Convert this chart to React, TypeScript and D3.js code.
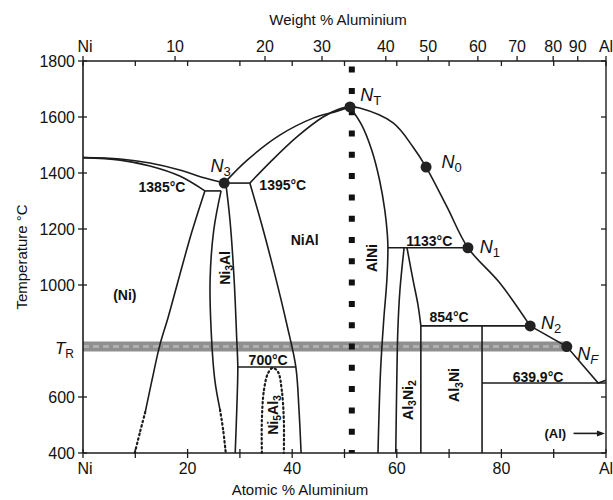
import React from "react";
import * as d3 from "d3";

const W = 613;
const H = 500;

// ---- axis data ----
const atomicTicks = [0, 10, 20, 30, 40, 50, 60, 70, 80, 90, 100];
const atomicLabelValues = [0, 20, 40, 60, 80, 100];
const atomicLabelTexts = ["Ni", "20", "40", "60", "80", "Al"];
const tempTicks = [400, 600, 1000, 1200, 1400, 1600, 1800];
const tempLabels = ["400", "600", "1000", "1200", "1400", "1600", "1800"];
// weight % ticks on the top axis, placed at their atomic % equivalents
const weightLabels = ["Ni", "10", "20", "30", "40", "50", "60", "70", "80", "90", "Al"];
const weightAtAtomic = [0, 17.6, 34.8, 45.7, 57.9, 66.0, 75.5, 83.0, 89.9, 94.6, 100];
const TR = 780;

// ---- phase boundaries [atomic % Al, temperature °C] ----
const niLiquidus = [[0, 1455], [7.1, 1450], [12.8, 1436], [18.5, 1411], [23.3, 1382], [27.0, 1364]];
const niSolidus = [[0, 1455], [7.1, 1446], [12.8, 1425], [18.5, 1389], [23.3, 1336]];
const eut1385 = [[23.3, 1336], [26.4, 1336]];
const per1395 = [[27.0, 1364], [31.9, 1364]];
const niAlLiquidus = [[27.0, 1364], [31.4, 1446], [37.7, 1536], [44.0, 1596], [48.6, 1621], [51.05, 1636]];
const niAlSolidus = [[31.9, 1364], [35.8, 1439], [40.9, 1529], [45.9, 1600], [49.1, 1629], [51.05, 1636]];
const niAlLeft = [[31.9, 1364], [34.2, 1214], [36.7, 1036], [39.0, 857], [40.7, 707], [41.3, 554], [41.7, 400]];
const ni3AlRight = [[27.3, 1364], [28.1, 1232], [28.9, 1018], [29.4, 804], [29.6, 707], [29.4, 554], [29.1, 400]];
const ni3AlLeft = [[26.4, 1336], [25.0, 1196], [24.3, 1018], [24.5, 839], [25.2, 661], [26.2, 554]];
const ni3AlLeftDotted = [[26.2, 554], [26.8, 482], [27.3, 400]];
const niSolvus = [[23.3, 1336], [20.8, 1189], [18.5, 1036], [16.3, 886], [14.7, 786], [13.2, 661], [11.9, 546]];
const niSolvusDotted = [[11.9, 546], [10.9, 475], [9.9, 400]];
const ni5Al3Dome = [[34.2, 400], [34.2, 518], [34.6, 625], [35.4, 686], [36.3, 704], [37.3, 689], [38.0, 625], [38.4, 518], [38.4, 400]];
const line700 = [[29.6, 707], [40.7, 707]];
const alNiRight = [[51.05, 1636], [53.3, 1571], [55.2, 1482], [56.7, 1375], [57.7, 1268], [58.2, 1179], [58.3, 1133], [58.1, 1018], [57.5, 875], [56.9, 696], [56.4, 400]];
const line1133 = [[58.3, 1133], [73.6, 1133]];
const al3Ni2Left = [[61.4, 1133], [60.6, 982], [60.2, 839], [60.0, 661], [59.8, 400]];
const al3Ni2RightTop = [[61.95, 1133], [63.1, 1018], [64.05, 929], [64.6, 854]];
const al3Ni2RightLow = [[64.6, 854], [64.6, 400]];
const line854 = [[64.6, 854], [85.5, 854]];
const al3NiLine = [[76.3, 854], [76.3, 400]];
const line640 = [[76.3, 650], [100, 650]];
const alLiquidusUpper = [[51.05, 1636], [52.9, 1632], [59.3, 1579], [63.1, 1493], [65.6, 1421], [69.6, 1279], [73.6, 1133], [79.7, 1007], [85.5, 854]];
const alLiquidusLower = [[85.5, 854], [92.5, 780], [98.5, 650], [100, 660]];
const stoichLine = [[51.4, 1780], [51.4, 400]];

// ---- special points ----
const pointNames = ["N_3", "N_T", "N_0", "N_1", "N_2", "N_F"];
const pointAt = [27.0, 51.05, 65.6, 73.6, 85.5, 92.5];
const pointT = [1364, 1636, 1421, 1133, 854, 780];
const pointLabelAt = [26.3, 55.0, 70.5, 77.8, 89.5, 96.5];
const pointLabelT = [1425, 1680, 1440, 1135, 865, 755];

// ---- region / temperature labels ----
const textLabels = ["1385°C", "1395°C", "NiAl", "(Ni)", "700°C", "1133°C", "854°C", "639.9°C"];
const textAt = [15.1, 38.2, 42.4, 8.0, 35.4, 66.2, 70.0, 87.0];
const textT = [1350, 1357, 1161, 964, 732, 1157, 886, 671];
const rotLabels = ["AlNi", "Ni_3Al", "Al_3Ni_2", "Al_3Ni", "Ni_5Al_3"];
const rotAt = [55.2, 27.2, 62.1, 71.0, 36.3];
const rotT = [1096, 1061, 589, 643, 536];

const FONT = "'Liberation Sans', Arial, Helvetica, sans-serif";
const INK = "#1c1c1c";

function subParts(s: string) {
  const parts: { t: string; sub: boolean }[] = [];
  for (let i = 0; i < s.length; i++) {
    if (s[i] === "_") {
      parts.push({ t: s[i + 1], sub: true });
      i++;
    } else {
      const last = parts[parts.length - 1];
      if (last && !last.sub) last.t += s[i];
      else parts.push({ t: s[i], sub: false });
    }
  }
  return parts;
}

function SubText({ s, size }: { s: string; size: number }) {
  const parts = subParts(s);
  let shifted = false;
  return (
    <>
      {parts.map((p, i) => {
        let dy = 0;
        if (p.sub && !shifted) { dy = size * 0.3; shifted = true; }
        else if (!p.sub && shifted) { dy = -size * 0.3; shifted = false; }
        return (
          <tspan key={i} dy={dy} fontSize={p.sub ? size * 0.75 : size}>{p.t}</tspan>
        );
      })}
    </>
  );
}

export default function App() {
  const x = d3.scaleLinear().domain([0, 100]).range([83, 606]);
  const y = d3.scaleLinear().domain([400, 1800]).range([453, 61]);
  const smooth = d3.line<number[]>().x((d) => x(d[0])).y((d) => y(d[1])).curve(d3.curveCatmullRom.alpha(0.5));
  const straight = d3.line<number[]>().x((d) => x(d[0])).y((d) => y(d[1]));

  const solidSmooth = [niLiquidus, niSolidus, niAlLiquidus, niAlSolidus, niAlLeft, ni3AlRight, ni3AlLeft, niSolvus, alNiRight, al3Ni2Left, al3Ni2RightTop, alLiquidusUpper];
  const solidStraight = [eut1385, per1395, line700, line1133, al3Ni2RightLow, line854, al3NiLine, line640, alLiquidusLower];
  const dotted = [ni3AlLeftDotted, niSolvusDotted, ni5Al3Dome];

  const x0 = x(0), x1 = x(100), yTop = y(1800), yBot = y(400);

  return (
    <svg width={W} height={H} style={{ position: "absolute", left: 0, top: 0, background: "#fff" }} fontFamily={FONT}>
      <rect width={W} height={H} fill="#fff" />
      {/* TR band */}
      <line x1={x(0)} x2={x(92.5)} y1={y(TR)} y2={y(TR)} stroke="#8f8f8f" strokeWidth={10} />
      <line x1={x(0)} x2={x(92.5)} y1={y(TR)} y2={y(TR)} stroke="#b0b0b0" strokeWidth={3} strokeDasharray="6 4" />

      {/* stoichiometric NiAl dotted line */}
      <path d={straight(stoichLine) || ""} stroke="#111" strokeWidth={6} strokeDasharray="6 15.3" fill="none" />

      {/* phase boundaries */}
      {solidSmooth.map((d, i) => (
        <path key={"s" + i} d={smooth(d) || ""} stroke={INK} strokeWidth={1.6} fill="none" />
      ))}
      {solidStraight.map((d, i) => (
        <path key={"l" + i} d={straight(d) || ""} stroke={INK} strokeWidth={1.6} fill="none" />
      ))}
      {dotted.map((d, i) => (
        <path key={"d" + i} d={smooth(d) || ""} stroke={INK} strokeWidth={2.2} strokeDasharray="1.5 3" strokeLinecap="round" fill="none" />
      ))}

      {/* frame */}
      <line x1={x0} x2={x1} y1={yTop} y2={yTop} stroke={INK} strokeWidth={1.6} />
      <line x1={x0} x2={x1} y1={yBot} y2={yBot} stroke={INK} strokeWidth={1.6} />
      <line x1={x0} x2={x0} y1={yTop} y2={yBot} stroke={INK} strokeWidth={1.6} />
      <line x1={x1} x2={x1} y1={yTop} y2={yBot} stroke={INK} strokeWidth={1.4} />

      {/* bottom ticks */}
      {atomicTicks.map((v) => (
        <line key={"bt" + v} x1={x(v)} x2={x(v)} y1={yBot - 4} y2={yBot + 5} stroke={INK} strokeWidth={1.3} />
      ))}
      {atomicLabelValues.map((v, i) => (
        <text key={"bl" + v} x={x(v) + (i === 0 ? 2 : 0)} y={yBot + 21} textAnchor="middle" fontSize={16} fill="#111">{atomicLabelTexts[i]}</text>
      ))}
      <text x={300} y={495} textAnchor="middle" fontSize={15} fill="#111">Atomic % Aluminium</text>

      {/* top ticks: atomic (down), weight (up) */}
      {atomicTicks.map((v) => (
        <line key={"ta" + v} x1={x(v)} x2={x(v)} y1={yTop} y2={yTop + 5} stroke={INK} strokeWidth={1.3} />
      ))}
      {weightAtAtomic.map((v, i) => (
        <line key={"tw" + i} x1={x(v)} x2={x(v)} y1={yTop - 5} y2={yTop} stroke={INK} strokeWidth={1.3} />
      ))}
      {weightAtAtomic.map((v, i) => (
        <text key={"twl" + i} x={x(v) + (i === 0 ? 2 : 0)} y={yTop - 9} textAnchor="middle" fontSize={16} fill="#111">{weightLabels[i]}</text>
      ))}
      <text x={338} y={25} textAnchor="middle" fontSize={15} fill="#111">Weight % Aluminium</text>

      {/* left / right ticks */}
      {tempTicks.map((v, i) => (
        <g key={"lt" + v}>
          <line x1={x0 - 5} x2={x0 + 4} y1={y(v)} y2={y(v)} stroke={INK} strokeWidth={1.3} />
          <line x1={x1 - 5} x2={x1} y1={y(v)} y2={y(v)} stroke={INK} strokeWidth={1.3} />
          <text x={x0 - 8} y={y(v) + 6} textAnchor="end" fontSize={16} fill="#111">{tempLabels[i]}</text>
        </g>
      ))}
      <text x={x0 - 9} y={y(TR) + 7} textAnchor="end" fontSize={17} fill="#111">
        <tspan fontStyle="italic">T</tspan>
        <tspan fontSize={12} dy={4}>R</tspan>
      </text>
      <text transform={`translate(27,${y(1100)}) rotate(-90)`} textAnchor="middle" fontSize={15} fill="#111">Temperature °C</text>

      {/* region labels */}
      {textLabels.map((t, i) => (
        <text key={"tl" + i} x={x(textAt[i])} y={y(textT[i])} textAnchor="middle" dominantBaseline="central" fontSize={14} fontWeight="bold" fill="#111">{t}</text>
      ))}
      {rotLabels.map((t, i) => (
        <text key={"rl" + i} transform={`translate(${x(rotAt[i])},${y(rotT[i])}) rotate(-90)`} textAnchor="middle" dominantBaseline="central" fontSize={14} fontWeight="bold" fill="#111">
          <SubText s={t} size={14} />
        </text>
      ))}
      <text x={x(90.3)} y={y(470)} textAnchor="middle" dominantBaseline="central" fontSize={13} fontWeight="bold" fill="#111">(Al)</text>
      <line x1={x(93.8)} x2={x(99.2)} y1={y(470)} y2={y(470)} stroke={INK} strokeWidth={1.6} />
      <path d={`M${x(99.8)},${y(470)} l-8,-3 l0,6 z`} fill={INK} />

      {/* special points */}
      {pointNames.map((n, i) => (
        <g key={"p" + i}>
          <circle cx={x(pointAt[i])} cy={y(pointT[i])} r={5.5} fill="#222" />
          <text x={x(pointLabelAt[i])} y={y(pointLabelT[i])} textAnchor="middle" dominantBaseline="central" fontSize={18} fill="#111">
            <tspan fontStyle="italic">N</tspan>
            <tspan fontSize={13} dy={5} fontStyle={n[2] === "F" ? "italic" : "normal"}>{n.slice(2)}</tspan>
          </text>
        </g>
      ))}
    </svg>
  );
}
